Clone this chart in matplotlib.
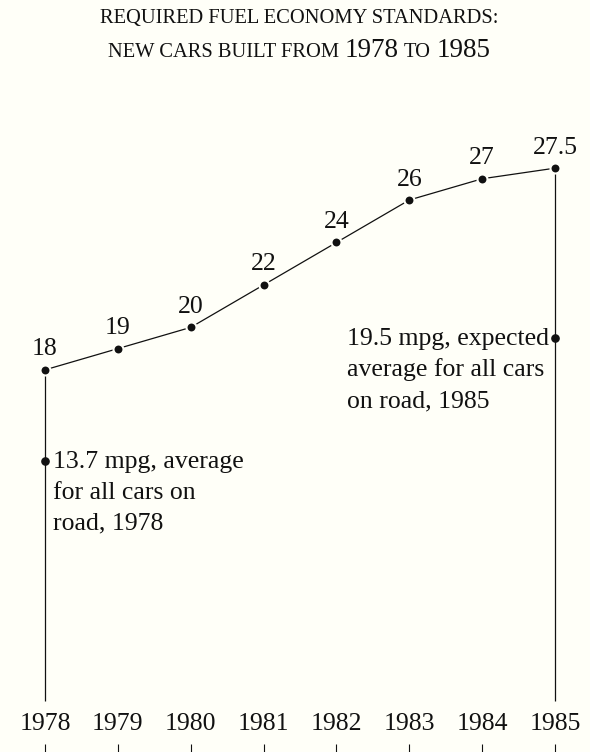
import matplotlib
matplotlib.use("Agg")
import matplotlib.pyplot as plt
from matplotlib.transforms import IdentityTransform

# ---------------- data ----------------
years = [1978, 1979, 1980, 1981, 1982, 1983, 1984, 1985]
standard_mpg = [18, 19, 20, 22, 24, 26, 27, 27.5]
fleet_years = [1978, 1985]
fleet_mpg = [13.7, 19.5]
fleet_notes = [
    ["13.7 mpg, average", "for all cars on", "road, 1978"],
    ["19.5 mpg, expected", "average for all cars", "on road, 1985"],
]
title_line1 = "REQUIRED FUEL ECONOMY STANDARDS:"
title_line2 = [("NEW CARS BUILT FROM", "caps"), ("1978", "num"), ("TO", "caps"), ("1985", "num")]

# ---------------- style ----------------
BG = "#fffff8"
INK = "#111111"
FONT = "Liberation Serif"
FS = 18.5          # main text size (pt)
FS_CAPS = 14.8     # small-caps imitation size
FS_TNUM = 19.5     # title numerals
LW = 0.9

W, H, DPI = 590, 752, 100
fig = plt.figure(figsize=(W / DPI, H / DPI), dpi=DPI, facecolor=BG)
ax = fig.add_axes([0, 0, 1, 1])
ax.set_facecolor(BG)
ax.set_xlim(1977.382, 1985.480)
ax.set_ylim(0, 35.42)
for s in ax.spines.values():
    s.set_visible(False)
ax.set_yticks([])
ax.set_xticks(years)
ax.tick_params(axis="x", direction="in", length=6, width=0.8, color=INK,
               labelbottom=False, pad=0)

# drop lines from first and last standard down toward the year labels
ax.vlines([years[0], years[-1]], 2.4, [standard_mpg[0], standard_mpg[-1]],
          color=INK, lw=LW, zorder=1)

# fleet average dots (no halo)
ax.plot(fleet_years, fleet_mpg, ls="none", marker="o", ms=5.2, color=INK, zorder=3)

# standards line with haloed markers
ax.plot(years, standard_mpg, color=INK, lw=LW, marker="o", ms=7.2,
        mfc=INK, mec=BG, mew=1.5, zorder=4)

# value labels
for x, v in zip(years, standard_mpg):
    ax.annotate(f"{v:g}", xy=(x, v), xytext=(0, 10.4), textcoords="offset points",
                ha="center", va="baseline", fontsize=FS, family=FONT, color=INK)

# year labels
for x in years:
    ax.text(x, 1.04, str(x), ha="center", va="baseline", fontsize=FS,
            family=FONT, color=INK)

# fleet notes
line_step = 22.2  # pt
offsets = [(5.8, -4.8), (-150.0, -5.3)]
for (x, v), lines, (dx, dy) in zip(zip(fleet_years, fleet_mpg), fleet_notes, offsets):
    for i, ln in enumerate(lines):
        ax.annotate(ln, xy=(x, v), xytext=(dx, dy - i * line_step),
                    textcoords="offset points", ha="left", va="baseline",
                    fontsize=FS, family=FONT, color=INK)

# ---------------- title (small-caps imitation) ----------------
renderer = fig.canvas.get_renderer()
ident = IdentityTransform()
size_of = {"caps": FS_CAPS, "num": FS_TNUM}


def draw_centered(segments, cx, baseline):
    gap = 0.27 * FS_CAPS * DPI / 72.0
    objs = []
    widths = []
    for txt, kind in segments:
        t = fig.text(0, 0, txt, transform=ident, ha="left", va="baseline",
                     fontsize=size_of[kind], family=FONT, color=INK)
        objs.append(t)
        widths.append(t.get_window_extent(renderer).width)
    total = sum(widths) + gap * (len(segments) - 1)
    x = cx - total / 2.0
    for t, w in zip(objs, widths):
        t.set_position((x, baseline))
        x += w + gap


cx = 299
draw_centered([(title_line1, "caps")], cx, H - 23.5)
draw_centered(title_line2, cx, H - 56.7)

fig.savefig("out.png", dpi=DPI, facecolor=BG)
